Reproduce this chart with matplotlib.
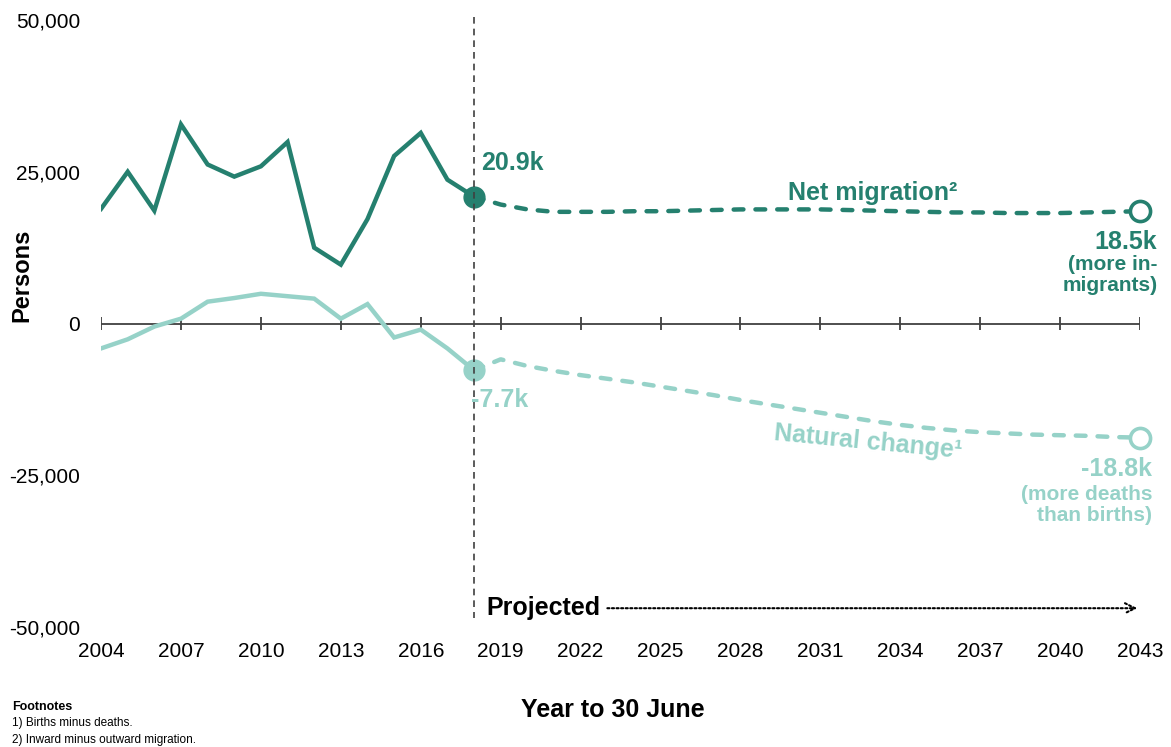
import matplotlib
matplotlib.use('Agg')
import matplotlib.pyplot as plt
from matplotlib.ticker import FuncFormatter

plt.rcParams['font.family'] = ['Liberation Sans', 'DejaVu Sans']

# Historical series (year to 30 June)
years_hist = list(range(2004, 2019))
net_hist = [18900, 25000, 18600, 32800, 26200, 24200, 25900, 29900,
            12500, 9700, 17200, 27600, 31400, 23700, 20900]
nat_hist = [-4100, -2600, -500, 800, 3600, 4200, 4900, 4500,
            4100, 800, 3200, -2300, -1000, -4100, -7700]

# Projected series
years_proj = list(range(2018, 2044))
net_proj = [20900, 19600, 18800, 18400, 18400, 18400, 18500, 18500, 18600,
            18700, 18800, 18800, 18800, 18800, 18700, 18600, 18500, 18400,
            18300, 18300, 18200, 18200, 18200, 18300, 18400, 18500]
nat_proj = [-7700, -5900, -7000, -7800, -8500, -9100, -9700, -10400, -11100,
            -11800, -12600, -13300, -14000, -14700, -15400, -16100, -16700,
            -17200, -17600, -17900, -18100, -18300, -18400, -18500, -18700,
            -18800]

xticks = list(range(2004, 2044, 3))
yticks = [-50000, -25000, 0, 25000, 50000]

dark = '#25806F'
light = '#96D2C8'
grey = '#404040'

fig = plt.figure(figsize=(11.71, 7.47), dpi=100)
ax = fig.add_axes([0.0863, 0.1606, 0.8873, 0.8126])

# lines
ax.plot(years_hist, net_hist, color=dark, lw=3.2, solid_joinstyle='miter', zorder=3)
ax.plot(years_hist, nat_hist, color=light, lw=3.2, solid_joinstyle='miter', zorder=3)
ax.plot(years_proj, net_proj, color=dark, lw=3.2, dashes=(2.2, 2.7),
        dash_capstyle='round', zorder=3)
ax.plot(years_proj, nat_proj, color=light, lw=3.2, dashes=(2.2, 2.7),
        dash_capstyle='round', zorder=3)

# markers at start of projection and end
ax.plot(years_proj[0], net_proj[0], 'o', color=dark, ms=15, zorder=4)
ax.plot(years_proj[0], nat_proj[0], 'o', color=light, ms=15, zorder=4)
ax.plot(years_proj[-1], net_proj[-1], 'o', mfc='white', mec=dark, mew=2.6,
        ms=14.5, zorder=4, clip_on=False)
ax.plot(years_proj[-1], nat_proj[-1], 'o', mfc='white', mec=light, mew=2.6,
        ms=14.5, zorder=4, clip_on=False)

# zero line with its own ticks
ax.axhline(0, color=grey, lw=1.3, zorder=2)
ax.vlines(xticks, -1000, 1000, color=grey, lw=1.3, zorder=2)

# projection divider
ax.plot([2018, 2018], [50500, -48500], color=grey, lw=1.2, dashes=(4, 3),
        zorder=5, clip_on=False)

ax.set_xlim(2004, 2043)
ax.set_ylim(-50000, 50000)
ax.set_xticks(xticks)
ax.set_yticks(yticks)
ax.yaxis.set_major_formatter(FuncFormatter(lambda v, p: f'{v:,.0f}'))
ax.tick_params(axis='both', length=0, labelsize=15, colors='black')
ax.tick_params(axis='x', pad=11)
ax.tick_params(axis='y', pad=15)
for s in ax.spines.values():
    s.set_visible(False)
ax.patch.set_alpha(0)

# annotations
ax.text(2018.25, 26400, '20.9k', color=dark, fontsize=18, fontweight='bold',
        ha='left', va='center')
ax.text(2029.8, 21500, 'Net migration\u00b2', color=dark, fontsize=18,
        fontweight='bold', ha='left', va='center')
ax.text(2043.65, 13500, '18.5k', color=dark, fontsize=18, fontweight='bold',
        ha='right', va='center')
ax.text(2043.65, 8000, '(more in-\nmigrants)', color=dark, fontsize=15,
        fontweight='bold', ha='right', va='center', linespacing=1.08)

ax.text(2017.9, -12600, '-7.7k', color=light, fontsize=18, fontweight='bold',
        ha='left', va='center')
ax.text(2032.8, -19600, 'Natural change\u00b9', color=light, fontsize=18,
        fontweight='bold', ha='center', va='center', rotation=-5.5)
ax.text(2043.45, -23900, '-18.8k', color=light, fontsize=18, fontweight='bold',
        ha='right', va='center')
ax.text(2043.45, -29900, '(more deaths\nthan births)', color=light, fontsize=15,
        fontweight='bold', ha='right', va='center', linespacing=1.08)

ax.text(2018.45, -46900, 'Projected', color='black', fontsize=18,
        fontweight='bold', ha='left', va='center')
ax.annotate('', xy=(2043.0, -46900), xytext=(2022.9, -46900),
            arrowprops=dict(arrowstyle='->', color='black', lw=1.5,
                            linestyle=(0, (1, 1.2)), mutation_scale=18))

fig.text(0.019, 0.632, 'Persons', rotation=90, fontsize=17, fontweight='bold',
         ha='center', va='center')
fig.text(0.523, 0.05, 'Year to 30 June', fontsize=18, fontweight='bold',
         ha='center', va='center')

fig.text(0.010, 0.054, 'Footnotes', fontsize=9, fontweight='bold', ha='left', va='center')
fig.text(0.010, 0.032, '1) Births minus deaths.', fontsize=8.5, ha='left', va='center')
fig.text(0.010, 0.010, '2) Inward minus outward migration.', fontsize=8.5, ha='left', va='center')

fig.savefig('out.png', dpi=100)
